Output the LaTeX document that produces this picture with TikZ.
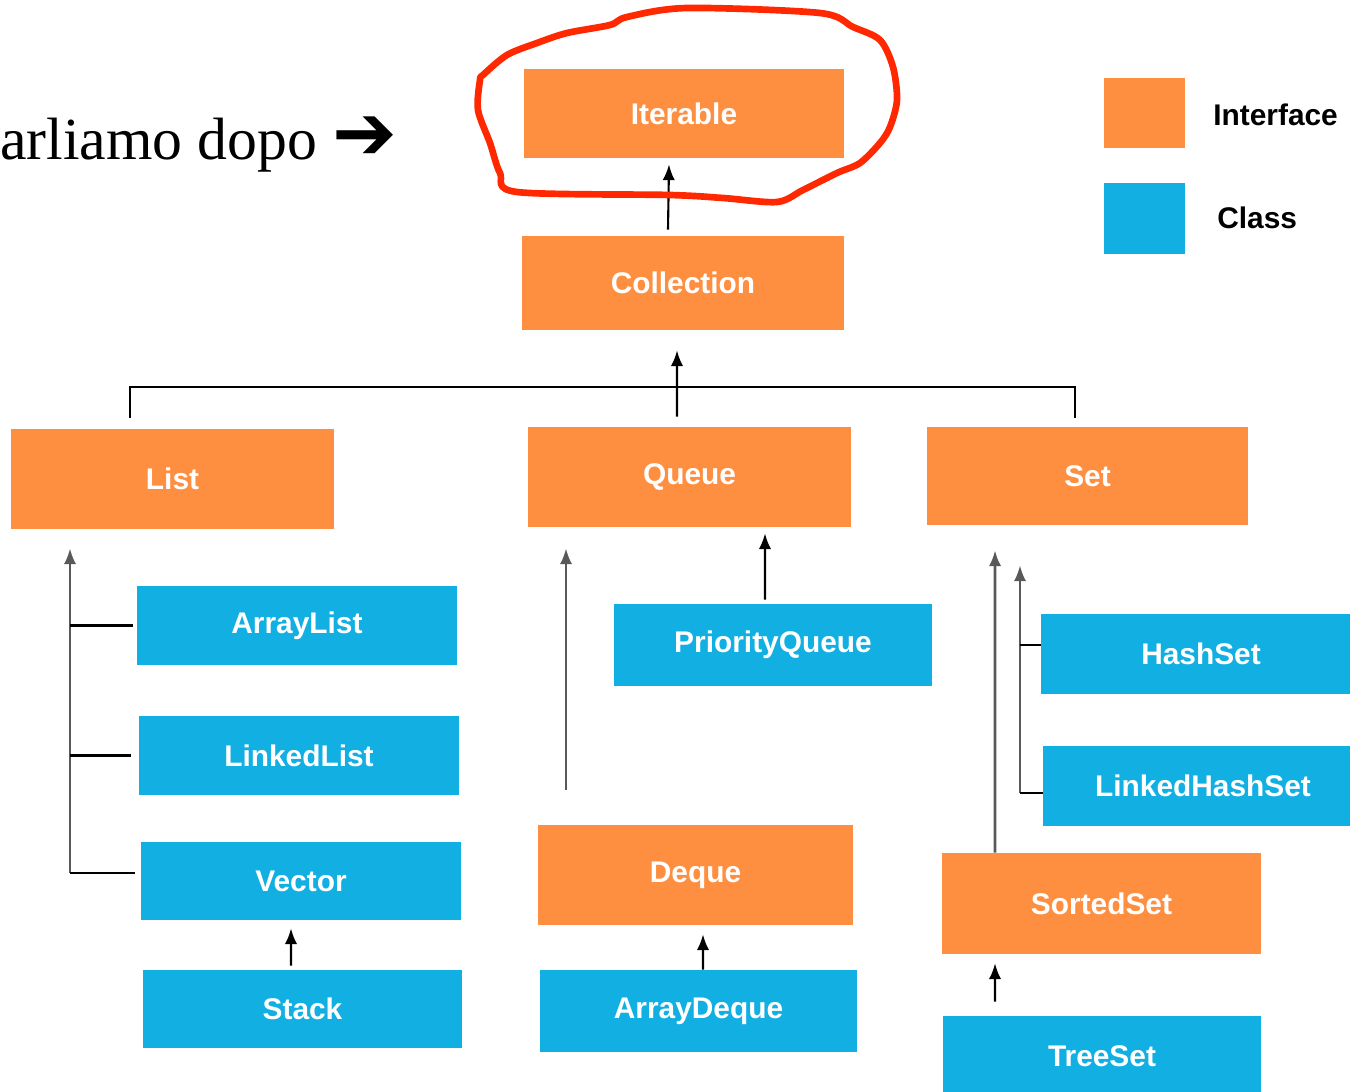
\documentclass[tikz,border=0pt]{standalone}
\usepackage{fontspec}
\setmainfont{Liberation Serif}
\setsansfont{Liberation Sans}
\newfontfamily\symfont{DejaVu Sans}
\usetikzlibrary{arrows.meta}

\definecolor{ifaceorange}{RGB}{255,143,64}
\definecolor{classblue}{RGB}{18,175,227}
\definecolor{penred}{RGB}{255,40,0}

\tikzset{
  box/.style={rectangle, inner sep=0pt, text=white, font=\sffamily\bfseries\fontsize{17}{20}\selectfont},
  iface/.style={box, fill=ifaceorange},
  cls/.style={box, fill=classblue},
  inherit/.style={line width=1.2pt, -{Latex[length=9pt,width=7pt]}},
  trunk/.style={inherit, line width=1.5pt, black!65},
  link/.style={line width=1.2pt},
  keytext/.style={anchor=west, inner sep=0pt, font=\sffamily\bfseries\fontsize{17}{20}\selectfont},
}

\begin{document}
\begin{tikzpicture}[x=0.02cm, y=-0.02cm]
    \useasboundingbox (0,0) rectangle (1350,1092);

    % Interfacce
    \node[iface, minimum width=6.4cm, minimum height=1.78cm] (iterable) at (684,113.5) {Iterable};
    \node[iface, minimum width=6.44cm, minimum height=1.88cm] (collection) at (683,283) {Collection};
    \node[iface, minimum width=6.46cm, minimum height=2cm] (list) at (172.5,479) {List};
    \node[iface, minimum width=6.46cm, minimum height=2cm] (queue) at (689.5,477) {Queue};
    \node[iface, minimum width=6.42cm, minimum height=1.96cm] (set) at (1087.5,476) {Set};
    \node[iface, minimum width=6.3cm, minimum height=2cm] (deque) at (695.5,875) {Deque};
    \node[iface, minimum width=6.38cm, minimum height=2.02cm] (sortedset) at (1101.5,903.5) {SortedSet};

    % Classi
    \node[cls, minimum width=6.4cm, minimum height=1.58cm] (arraylist) at (297,625.5) {ArrayList};
    \node[cls, minimum width=6.4cm, minimum height=1.58cm] (linkedlist) at (299,755.5) {LinkedList};
    \node[cls, minimum width=6.4cm, minimum height=1.56cm] (vector) at (301,881) {Vector};
    \node[cls, minimum width=6.38cm, minimum height=1.56cm] (stack) at (302.5,1009) {Stack};
    \node[cls, minimum width=6.36cm, minimum height=1.64cm] (pqueue) at (773,645) {PriorityQueue};
    \node[cls, minimum width=6.34cm, minimum height=1.64cm] (arraydeque) at (698.5,1011) {ArrayDeque};
    \node[cls, minimum width=6.4cm, minimum height=1.6cm] (hashset) at (1201,654) {HashSet};
    \node[cls, minimum width=6.4cm, minimum height=1.6cm] (lhashset) at (1203,786) {LinkedHashSet};
    \node[cls, minimum width=6.36cm, minimum height=1.6cm] (treeset) at (1102,1056) {TreeSet};

    % Legenda
    \node[iface, minimum width=1.62cm, minimum height=1.4cm] (keyiface) at (1144.5,113) {};
    \node[cls, minimum width=1.62cm, minimum height=1.42cm] (keycls) at (1144.5,218.5) {};
    \node[keytext] (keyifacetext) at (1213,115) {Interface};
    \node[keytext] (keyclstext) at (1217,218) {Class};

    \node[anchor=base west, inner sep=0pt, font=\fontsize{34}{40}\selectfont] (later) at (0,159) {arliamo dopo {\symfont\bfseries\fontsize{44}{48}\selectfont ➔}};

    % Collection -> Iterable
    \draw[inherit] ([xshift=-0.3cm,yshift=0.12cm]collection.north) -- ([xshift=-0.3cm,yshift=-0.12cm]iterable.south);

    % List, Queue, Set -> Collection
    \coordinate (hub) at (677,387);
    \draw[link] ([xshift=-0.85cm,yshift=0.22cm]list.north) |- (hub) -| ([xshift=-0.25cm,yshift=0.18cm]set.north);
    \draw[inherit] ([xshift=-0.25cm,yshift=0.2cm]queue.north) -- ([xshift=-0.12cm,yshift=-0.4cm]collection.south);

    % List
    \coordinate (listbus) at (70,873);
    \draw[trunk] (listbus) -- ([yshift=-0.38cm]list.south -| listbus);
    \draw[link] (listbus |- arraylist.west) -- ([xshift=-0.08cm]arraylist.west);
    \draw[link] (listbus |- linkedlist.west) -- ([xshift=-0.16cm]linkedlist.west);
    \draw[link] (listbus) -- ([xshift=-0.12cm]listbus -| vector.west);
    \draw[inherit] ([xshift=-0.23cm,yshift=0.08cm]stack.north) -- ([xshift=-0.2cm,yshift=-0.16cm]vector.south);

    % Queue
    \coordinate (queuebus) at (566,790);
    \draw[trunk] (queuebus) -- ([yshift=-0.42cm]queue.south -| queuebus);
    \draw[inherit] ([xshift=-0.16cm,yshift=0.08cm]pqueue.north) -- ([xshift=1.51cm,yshift=-0.12cm]queue.south);
    \draw[inherit] ([xshift=0.09cm]arraydeque.north) -- ([xshift=0.15cm,yshift=-0.18cm]deque.south);

    % Set
    \draw[trunk] ([xshift=-2.13cm]sortedset.north) -- ([xshift=-1.85cm,yshift=-0.5cm]set.south);
    \coordinate (setbus) at (1020,793);
    \draw[trunk] (setbus) -- ([yshift=-0.8cm]set.south -| setbus);
    \draw[link] ([yshift=0.18cm]hashset.west) -- ([yshift=0.18cm]hashset.west -| setbus);
    \draw[link] (setbus) -- (setbus -| lhashset.west);
    \draw[inherit] ([xshift=-2.14cm,yshift=0.28cm]treeset.north) -- ([xshift=-2.13cm,yshift=-0.18cm]sortedset.south);

    % cerchio a mano
    \draw[penred, line width=3.8pt, line join=round, line cap=round] plot[smooth cycle, tension=0.5] coordinates {
      (483,75) (507,55) (537,43) (567,33) (610,25) (627,17) (687,8) (820,13) (853,27) (880,40)
      (893,67) (897,100) (890,127) (880,143) (860,163) (837,173) (803,190) (777,202) (723,198)
      (670,195) (517,192) (500,173) (490,143) (478,110) (480,80)};
\end{tikzpicture}
\end{document}
